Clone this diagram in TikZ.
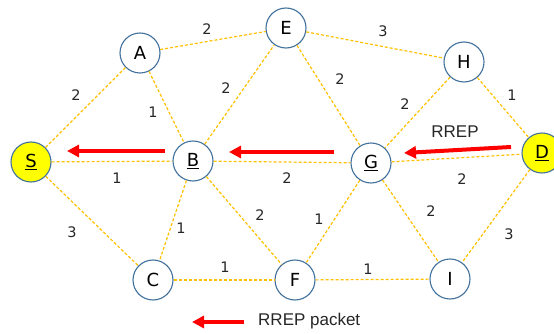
\documentclass[tikz,border=0pt]{standalone}
\usepackage{fontspec}
\setmainfont{DejaVu Sans}
\newfontfamily\arialf{Liberation Sans}
\usetikzlibrary{arrows.meta}
\definecolor{nodeblue}{HTML}{41719C}
\definecolor{linkorange}{HTML}{FFC000}
\definecolor{darktext}{HTML}{262626}
\definecolor{nodefill}{HTML}{FFFF00}
\begin{document}
\begin{tikzpicture}[x=1pt,y=-1pt,
 netnode/.style={circle, draw=nodeblue, line width=1.1pt, fill=white, minimum size=40pt, inner sep=0pt, font=\fontsize{18}{18}\selectfont, text=black},
 endnode/.style={netnode, fill=nodefill},
 link/.style={draw=linkorange, dash pattern=on 3pt off 2pt, line width=1.2pt},
 wt/.style={font=\fontsize{14.5}{14.5}\selectfont, text=darktext, inner sep=0pt},
 rrep/.style={draw=red, line width=4pt, -{Triangle[length=12pt,width=12pt]}},
 rreptext/.style={font=\arialf\fontsize{17}{17}\selectfont, text=darktext, inner sep=0pt},
]
\useasboundingbox (0,0) rectangle (554,334);
% nodes
\node[endnode] (S) at (31,162) {\underline{S}};
\node[netnode] (A) at (140,53) {A};
\node[netnode] (B) at (193,161) {\underline{B}};
\node[netnode] (E) at (286,28) {E};
\node[netnode] (H) at (464,62) {H};
\node[endnode] (D) at (542,153) {\underline{D}};
\node[netnode] (G) at (371,163) {\underline{G}};
\node[netnode] (C) at (153,280) {C};
\node[netnode] (F) at (295,280) {F};
\node[netnode] (I) at (450,279) {I};
% links
\path[link] (S) -- (A);
\path[link] (S) -- (B);
\path[link] (S) -- (C);
\path[link] (A) -- (E);
\path[link] (A) -- (B);
\path[link] (B) -- (E);
\path[link] (B) -- (G);
\path[link] (B) -- (C);
\path[link] (B) -- (F);
\path[link] (E) -- (H);
\path[link] (E) -- (G);
\path[link] (H) -- (G);
\path[link] (H) -- (D);
\path[link] (G) -- (D);
\path[link] (G) -- (F);
\path[link] (G) -- (I);
\path[link] (D) -- (I);
\path[link] (C) -- (F);
\path[link] (F) -- (I);
% weights
\node[wt] (wSA) at (76,95) {2};
\node[wt] (wAE) at (207,29) {2};
\node[wt] (wAB) at (153,112) {1};
\node[wt] (wBE) at (226,88) {2};
\node[wt] (wEH) at (383,31) {3};
\node[wt] (wEG) at (340,79) {2};
\node[wt] (wHG) at (405,104) {2};
\node[wt] (wHD) at (512,95) {1};
\node[wt] (wSB) at (117,178) {1};
\node[wt] (wBG) at (287,178) {2};
\node[wt] (wGD) at (462,179) {2};
\node[wt] (wSC) at (72,232) {3};
\node[wt] (wBC) at (181,228) {1};
\node[wt] (wBF) at (260,215) {2};
\node[wt] (wGF) at (319,219) {1};
\node[wt] (wGI) at (431,211) {2};
\node[wt] (wDI) at (509,234) {3};
\node[wt] (wCF) at (225,267) {1};
\node[wt] (wFI) at (368,269) {1};
% RREP arrows
\coordinate (a1s) at (165,151);
\coordinate (a1e) at (67,151);
\coordinate (a2s) at (334,152);
\coordinate (a2e) at (229,152);
\coordinate (a3s) at (511,147);
\coordinate (a3e) at (404,153);
\draw[rrep] (a1s) -- (a1e);
\draw[rrep] (a2s) -- (a2e);
\draw[rrep] (a3s) -- (a3e);
\node[rreptext] (rreplbl) at (455,132) {RREP};
% legend
\coordinate (ls) at (244,322);
\coordinate (le) at (192,322);
\draw[rrep] (ls) -- (le);
\node[rreptext, anchor=west] (legend) at (258,321) {RREP packet};
\end{tikzpicture}
\end{document}
